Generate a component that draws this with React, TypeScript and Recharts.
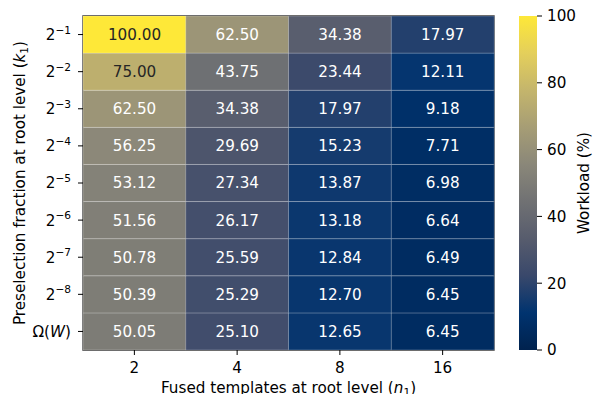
import React from 'react';
import { BarChart, Bar, XAxis, YAxis, Cell, LabelList, Label, ReferenceArea } from 'recharts';

// Fused templates at root level (n1) — heatmap columns
const fusedTemplates = ['2', '4', '8', '16'];

// Preselection fraction exponents, top row first; null marks the Ω(W) row
const preselectionExponents: (string | null)[] = ['−1', '−2', '−3', '−4', '−5', '−6', '−7', '−8', null];

// Workload (%) per row, one value per fused-template column
const workloadK1 = [100.0, 62.5, 34.38, 17.97];
const workloadK2 = [75.0, 43.75, 23.44, 12.11];
const workloadK3 = [62.5, 34.38, 17.97, 9.18];
const workloadK4 = [56.25, 29.69, 15.23, 7.71];
const workloadK5 = [53.12, 27.34, 13.87, 6.98];
const workloadK6 = [51.56, 26.17, 13.18, 6.64];
const workloadK7 = [50.78, 25.59, 12.84, 6.49];
const workloadK8 = [50.39, 25.29, 12.7, 6.45];
const workloadOmega = [50.05, 25.1, 12.65, 6.45];

const workloadRows = [
  workloadK1, workloadK2, workloadK3, workloadK4, workloadK5,
  workloadK6, workloadK7, workloadK8, workloadOmega,
];

const colorbarTicks = [0, 20, 40, 60, 80, 100];

// Cividis colour map stops (low → high)
const CIVIDIS = [
  '#00224E', '#00336F', '#39486B', '#575C6D', '#707173',
  '#8A8779', '#A69D75', '#C4B56C', '#E4CF5B', '#FEE838',
];

const FONT = '"DejaVu Sans", sans-serif';
const TEXT_SIZE = 15.2;
const SCRIPT_SIZE = 10.6;

function hexToRgb(h: string) {
  const n = parseInt(h.slice(1), 16);
  return [(n >> 16) & 255, (n >> 8) & 255, n & 255];
}

function cividis(value: number, vmin = 0, vmax = 100) {
  const t = Math.min(1, Math.max(0, (value - vmin) / (vmax - vmin)));
  const pos = t * (CIVIDIS.length - 1);
  const i = Math.min(CIVIDIS.length - 2, Math.floor(pos));
  const f = pos - i;
  const a = hexToRgb(CIVIDIS[i]);
  const b = hexToRgb(CIVIDIS[i + 1]);
  const c = a.map((v, k) => Math.round(v + (b[k] - v) * f));
  return `rgb(${c[0]},${c[1]},${c[2]})`;
}

// Rows stacked bottom → top, so the last row in the list sits at the bottom
const stackRows = workloadRows.map((_, i) => workloadRows.length - 1 - i);

const tableData = fusedTemplates.map((n, col) => {
  const entry: Record<string, number | string> = { n };
  stackRows.forEach((rowIdx, s) => {
    entry[`cell${s}`] = 1;
    entry[`w${s}`] = workloadRows[rowIdx][col];
  });
  return entry;
});

const rowTicks = stackRows.map((_, s) => s + 0.5);

function YTick(props: any) {
  const { x, y, payload } = props;
  const s = Math.floor(payload.value);
  const exp = preselectionExponents[stackRows[s]];
  return (
    <g transform={`translate(${x},${y})`}>
      {exp !== null ? (
        <text textAnchor="end" dy="0.36em" fontFamily={FONT} fontSize={TEXT_SIZE} fill="#000">
          2<tspan fontSize={SCRIPT_SIZE} dy={-6.5}>{exp}</tspan>
        </text>
      ) : (
        <text textAnchor="end" dy="0.36em" fontFamily={FONT} fontSize={TEXT_SIZE} fill="#000">
          Ω(<tspan fontStyle="italic">W</tspan>)
        </text>
      )}
    </g>
  );
}

function YAxisTitle(props: any) {
  const vb = props.viewBox;
  const cx = vb.x + 25;
  const cy = vb.y + vb.height / 2;
  return (
    <text
      transform={`translate(${cx},${cy}) rotate(-90)`}
      textAnchor="middle"
      fontFamily={FONT}
      fontSize={TEXT_SIZE}
      fill="#000"
    >
      Preselection fraction at root level (<tspan fontStyle="italic">k</tspan>
      <tspan fontSize={SCRIPT_SIZE} dy={3}>1</tspan>
      <tspan dy={-3}>)</tspan>
    </text>
  );
}

function XAxisTitle(props: any) {
  const vb = props.viewBox;
  const cx = vb.x + vb.width / 2;
  return (
    <text x={cx} y={vb.y + 42.5} textAnchor="middle" fontFamily={FONT} fontSize={TEXT_SIZE} fill="#000">
      Fused templates at root level (<tspan fontStyle="italic">n</tspan>
      <tspan fontSize={SCRIPT_SIZE} dy={3}>1</tspan>
      <tspan dy={-3}>)</tspan>
    </text>
  );
}

function CellText(props: any) {
  const { x, y, width, height, value } = props;
  const v = Number(value);
  return (
    <text
      x={Number(x) + Number(width) / 2}
      y={Number(y) + Number(height) / 2}
      dy="0.36em"
      textAnchor="middle"
      fontFamily={FONT}
      fontSize={TEXT_SIZE}
      fill={v > 70 ? '#262626' : '#ffffff'}
    >
      {v.toFixed(2)}
    </text>
  );
}

function ColorbarTitle(props: any) {
  const vb = props.viewBox;
  const cx = vb.x + 52;
  const cy = vb.y + vb.height / 2;
  return (
    <text
      transform={`translate(${cx},${cy}) rotate(-90)`}
      textAnchor="middle"
      fontFamily={FONT}
      fontSize={TEXT_SIZE}
      fill="#000"
    >
      Workload (%)
    </text>
  );
}

const colorbarData = [{ name: 'scale', v: 100 }];

export default function App() {
  return (
    <div style={{ position: 'absolute', left: 0, top: 0, width: 598, height: 394, background: '#fff' }}>
      <div style={{ position: 'absolute', left: 0, top: 0 }}>
        <BarChart
          width={598}
          height={394}
          data={tableData}
          margin={{ top: 16, right: 104, bottom: 0, left: 0 }}
          barCategoryGap={0}
          barGap={0}
        >
          <XAxis
            dataKey="n"
            height={44}
            axisLine={false}
            tickLine={{ stroke: '#000' }}
            tickSize={5}
            tickMargin={7}
            tick={{ fontFamily: FONT, fontSize: TEXT_SIZE, fill: '#000' }}
          >
            <Label content={XAxisTitle} />
          </XAxis>
          <YAxis
            type="number"
            domain={[0, workloadRows.length]}
            ticks={rowTicks}
            interval={0}
            width={83}
            axisLine={false}
            tickLine={{ stroke: '#000' }}
            tickSize={5}
            tickMargin={7}
            tick={YTick}
          >
            <Label content={YAxisTitle} />
          </YAxis>
          {stackRows.map((_, s) => (
            <Bar
              key={s}
              dataKey={`cell${s}`}
              stackId="grid"
              isAnimationActive={false}
              stroke="rgba(255,255,255,0.32)"
              strokeWidth={0.7}
            >
              {tableData.map((d, col) => (
                <Cell key={col} fill={cividis(Number(d[`w${s}`]))} />
              ))}
              <LabelList dataKey={`w${s}`} content={CellText} />
            </Bar>
          ))}
          <ReferenceArea
            y1={0}
            y2={workloadRows.length}
            fill="none"
            stroke="#262626"
            strokeWidth={1.3}
            ifOverflow="visible"
          />
        </BarChart>
      </div>
      <div style={{ position: 'absolute', left: 519, top: 0 }}>
        <BarChart
          width={79}
          height={394}
          data={colorbarData}
          margin={{ top: 16, right: 0, bottom: 44, left: 0 }}
          barCategoryGap={0}
        >
          <defs>
            <linearGradient id="cividisScale" x1="0" y1="1" x2="0" y2="0">
              {CIVIDIS.map((c, i) => (
                <stop key={i} offset={`${(i / (CIVIDIS.length - 1)) * 100}%`} stopColor={c} />
              ))}
            </linearGradient>
          </defs>
          <XAxis dataKey="name" hide />
          <YAxis
            orientation="right"
            type="number"
            domain={[0, 100]}
            ticks={colorbarTicks}
            interval={0}
            width={61}
            axisLine={false}
            tickLine={{ stroke: '#000' }}
            tickSize={5}
            tickMargin={5}
            tick={{ fontFamily: FONT, fontSize: TEXT_SIZE, fill: '#000' }}
          >
            <Label content={ColorbarTitle} />
          </YAxis>
          <Bar dataKey="v" fill="url(#cividisScale)" isAnimationActive={false} />
        </BarChart>
      </div>
    </div>
  );
}
